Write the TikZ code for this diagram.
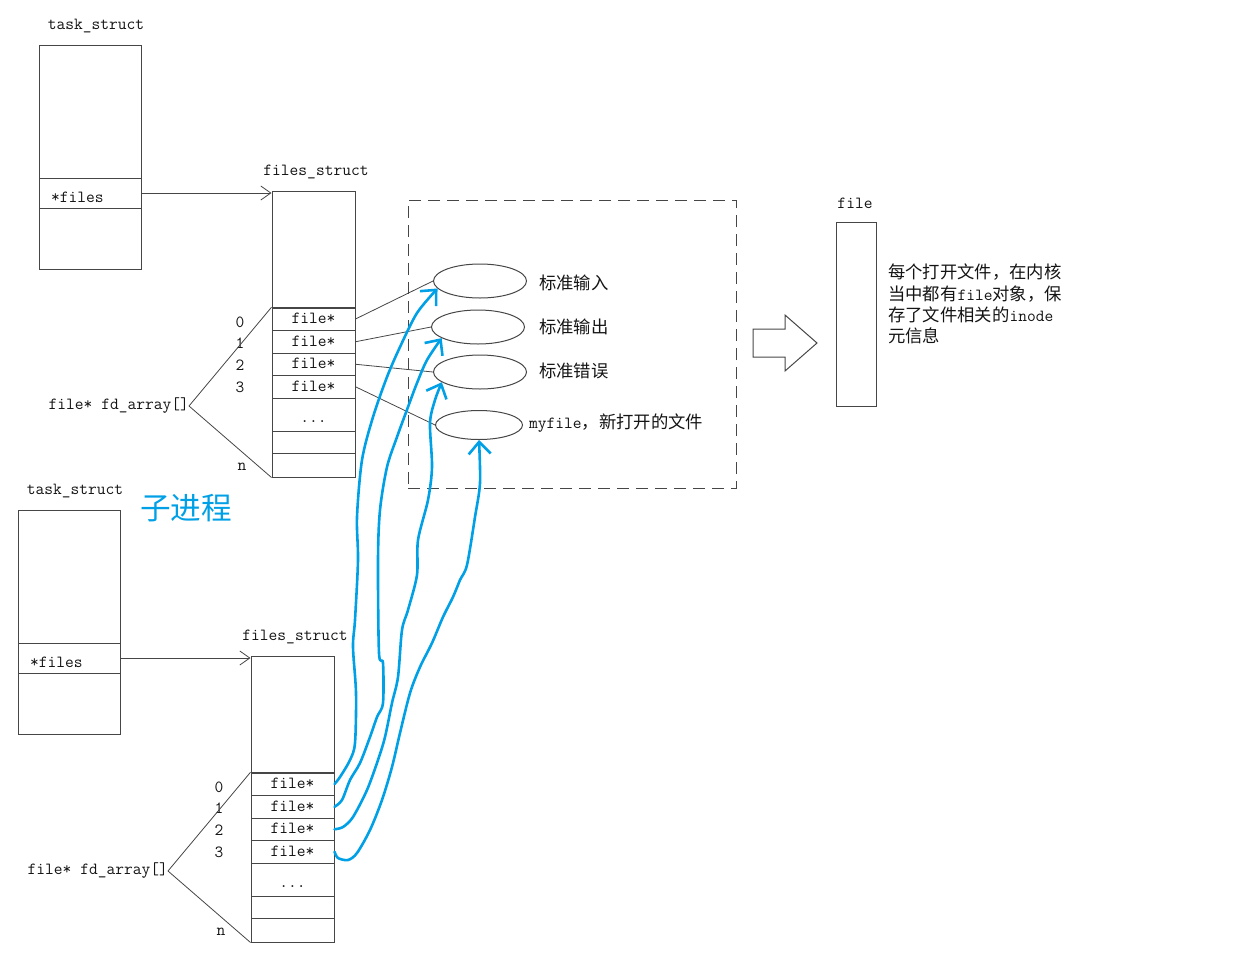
\documentclass[tikz,border=0pt]{standalone}
\usepackage{fontspec}
\newfontfamily\cjk{Noto Sans CJK SC}[Scale=1.02]
\usetikzlibrary{shapes.geometric,arrows.meta}
\definecolor{lc}{RGB}{70,70,70}
\definecolor{tc}{RGB}{20,20,20}
\definecolor{hb}{RGB}{0,160,230}
\tikzset{
  txt/.style={font=\ttfamily\fontsize{17}{20}\selectfont, text=tc, inner sep=0pt},
  cell/.style={draw=lc, line width=1pt, minimum width=83pt, inner sep=0pt, text height=11.5pt, text depth=3pt, font=\ttfamily\fontsize{17}{20}\selectfont, text=tc},
  tcell/.style={draw=lc, line width=1pt, minimum width=102pt, inner sep=0pt},
  conn/.style={draw=lc, line width=0.8pt},
  ptr/.style={conn, -{Straight Barb[length=10pt,width=14pt]}},
  oval/.style={ellipse, draw=lc, line width=1pt, inner sep=0pt, minimum width=93pt, minimum height=34pt},
  hand/.style={draw=hb, line width=2.6pt, line cap=round, line join=round, -{Straight Barb[length=12pt,width=22pt]}},
}
\newcommand\procgroup{%
  \node[tcell, minimum height=133pt] (tA) at (90,111.5) {};
  \node[tcell, minimum height=30pt] (tF) at (90,193) {};
  \node[tcell, minimum height=61pt] (tB) at (90,238.5) {};
  \node[txt, anchor=west] (tFt) at (51,197) {*files};
  \node[txt] (tL) at (96,26) {task\_struct};
  \node[cell, minimum height=117pt] (fA) at (313.5,249.5) {};
  \node[cell, minimum height=22.5pt] (a0) at (313.5,319) {file*};
  \node[cell, minimum height=22.5pt] (a1) at (313.5,341.75) {file*};
  \node[cell, minimum height=22.5pt] (a2) at (313.5,364.25) {file*};
  \node[cell, minimum height=22.5pt] (a3) at (313.5,386.75) {file*};
  \node[cell, minimum height=33pt] (ad) at (313.5,414.5) {\raisebox{-4pt}{...}};
  \node[cell, minimum height=22pt] (ae) at (313.5,442) {};
  \node[cell, minimum height=24pt] (an) at (313.5,465) {};
  \node[txt] (fL) at (316,172) {files\_struct};
  \node[txt, anchor=east] (fd) at (189,406) {file* fd\_array[]};
  \node[txt] (n0) at (240,322) {0};
  \node[txt] (n1) at (240,343) {1};
  \node[txt] (n2) at (240,365) {2};
  \node[txt] (n3) at (240,387) {3};
  \node[txt] (nn) at (242,467) {n};
  \draw[conn] (fd.east) -- (a0.north west);
  \draw[conn] (fd.east) -- (an.south west);
  \draw[ptr] (tF.east) -- (tF.east -| fA.west);
}
\begin{document}
\begin{tikzpicture}[x=1pt,y=-1pt]
\useasboundingbox (0,0) rectangle (1259,967);
\begin{scope}[name prefix=p-]
  \procgroup
\end{scope}
\begin{scope}[shift={(-21,465)}, name prefix=c-]
  \procgroup
\end{scope}

% open files group
\node[draw=lc, dash pattern=on 12pt off 7pt, line width=1pt, minimum width=328pt, minimum height=288pt, inner sep=0pt] (grp) at (572,344) {};
\node[oval] (e1) at (480,281) {};
\node[oval] (e2) at (478,327) {};
\node[oval] (e3) at (480,372) {};
\node[oval, minimum width=87pt, minimum height=29pt] (e4) at (479,425) {};
\node[txt, anchor=west] (l1) at (539,283) {\cjk 标准输入};
\node[txt, anchor=west] (l2) at (539,327) {\cjk 标准输出};
\node[txt, anchor=west] (l3) at (539,371) {\cjk 标准错误};
\node[txt, anchor=west] (l4) at (529,423) {myfile{\cjk ，新打开的文件}};

\draw[conn] (p-a0.east) -- (e1.west);
\draw[conn] (p-a1.east) -- (e2.west);
\draw[conn] (p-a2.east) -- (e3.west);
\draw[conn] (p-a3.east) -- (e4.west);

% block arrow
\draw[draw=lc, line width=1pt] (753,329) -- (785,329) -- (785,315) -- (817,343) -- (785,371) -- (785,357) -- (753,357) -- cycle;

% file object
\node[draw=lc, line width=1pt, minimum width=40pt, minimum height=184pt, inner sep=0pt] (fobj) at (856,314) {};
\node[txt] (fobjL) at (855,203) {file};
\node[txt, anchor=north west, align=left, font=\ttfamily\fontsize{17}{21.3}\selectfont] (desc) at (888,264)
  {{\cjk 每个打开文件，在内核}\\{\cjk 当中都有}file{\cjk 对象，保}\\{\cjk 存了文件相关的}inode\\{\cjk 元信息}};

% child process label
\node[text=hb, inner sep=0pt, font=\cjk\fontsize{30}{32}\selectfont] (child) at (186,508) {子进程};

% hand-drawn blue pointers
\draw[hand] plot[smooth, tension=0.5] coordinates {(c-a0.east) (340,777) (350,760) (355,743) (356,693) (353,647) (355,620) (358,560) (357,517) (362,460) (373,417) (387,377) (400,347) (417,313) (e1.190)};
\draw[hand] plot[smooth, tension=0.5] coordinates {(c-a1.east) (342,800) (350,780) (360,763) (370,737) (377,717) (383,703) (383,663) (379,653) (378,560) (380,510) (387,467) (397,437) (408,407) (417,383) (427,360) (e2.197)};
\draw[hand] plot[smooth, tension=0.5] coordinates {(c-a2.east) (343,827) (353,817) (367,790) (378,760) (385,737) (392,703) (398,677) (402,630) (408,610) (417,575) (418,540) (428,500) (432,467) (430,423) (435,400) (e3.195)};
\draw[hand] plot[smooth, tension=0.5] coordinates {(c-a3.east) (338,858) (348,860) (357,853) (370,830) (382,800) (392,767) (400,733) (410,693) (420,667) (432,643) (443,617) (453,597) (460,580) (467,565) (475,517) (480,483) (e4.south)};
\end{tikzpicture}
\end{document}
